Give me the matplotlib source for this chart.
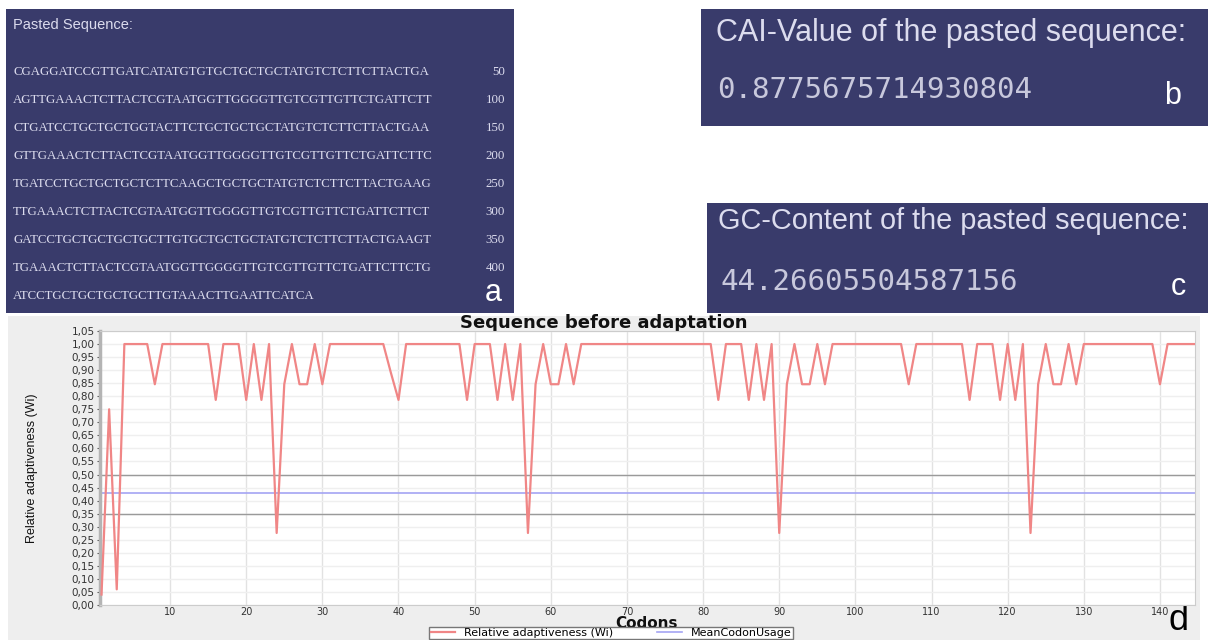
import numpy as np
import matplotlib.pyplot as plt
from matplotlib import font_manager
from matplotlib.patches import Rectangle
from matplotlib.ticker import FuncFormatter

# panel a: pasted sequence, 50 nt per row
seq_rows = [
    "CGAGGATCCGTTGATCATATGTGTGCTGCTGCTATGTCTCTTCTTACTGA",
    "AGTTGAAACTCTTACTCGTAATGGTTGGGGTTGTCGTTGTTCTGATTCTT",
    "CTGATCCTGCTGCTGGTACTTCTGCTGCTGCTATGTCTCTTCTTACTGAA",
    "GTTGAAACTCTTACTCGTAATGGTTGGGGTTGTCGTTGTTCTGATTCTTC",
    "TGATCCTGCTGCTGCTCTTCAAGCTGCTGCTATGTCTCTTCTTACTGAAG",
    "TTGAAACTCTTACTCGTAATGGTTGGGGTTGTCGTTGTTCTGATTCTTCT",
    "GATCCTGCTGCTGCTGCTTGTGCTGCTGCTATGTCTCTTCTTACTGAAGT",
    "TGAAACTCTTACTCGTAATGGTTGGGGTTGTCGTTGTTCTGATTCTTCTG",
    "ATCCTGCTGCTGCTGCTTGTAAACTTGAATTCATCA",
]
row_ends = ["50", "100", "150", "200", "250", "300", "350", "400", ""]

# panels b and c
cai_value = "0.8775675714930804"
gc_value = "44.26605504587156"

# panel d: relative adaptiveness per codon
wi = [
    0.04, 0.75, 0.06, 1.0, 1.0, 1.0, 1.0, 0.846, 1.0,
    1.0, 1.0, 1.0, 1.0, 1.0, 1.0, 0.786, 1.0, 1.0, 1.0,
    0.786, 1.0, 0.786, 1.0, 0.276, 0.846, 1.0, 0.846, 0.846, 1.0,
    0.846, 1.0, 1.0, 1.0, 1.0, 1.0, 1.0, 1.0, 1.0, 0.89,
    0.786, 1.0, 1.0, 1.0, 1.0, 1.0, 1.0, 1.0, 1.0, 0.786,
    1.0, 1.0, 1.0, 0.786, 1.0, 0.786, 1.0, 0.276, 0.846, 1.0,
    0.846, 0.846, 1.0, 0.846, 1.0, 1.0, 1.0, 1.0, 1.0, 1.0,
    1.0, 1.0, 1.0, 1.0, 1.0, 1.0, 1.0, 1.0, 1.0, 1.0,
    1.0, 1.0, 0.786, 1.0, 1.0, 1.0, 0.786, 1.0, 0.786, 1.0,
    0.276, 0.846, 1.0, 0.846, 0.846, 1.0, 0.846, 1.0, 1.0, 1.0,
    1.0, 1.0, 1.0, 1.0, 1.0, 1.0, 1.0, 0.846, 1.0, 1.0,
    1.0, 1.0, 1.0, 1.0, 1.0, 0.786, 1.0, 1.0, 1.0, 0.786,
    1.0, 0.786, 1.0, 0.276, 0.846, 1.0, 0.846, 0.846, 1.0, 0.846,
    1.0, 1.0, 1.0, 1.0, 1.0, 1.0, 1.0, 1.0, 1.0, 1.0,
    0.846, 1.0, 1.0, 1.0, 1.0, 1.0,
]
codons = np.arange(1, len(wi) + 1)
mean_usage = 0.43
band_hi = 0.50
band_lo = 0.35
x_ticks = [10, 20, 30, 40, 50, 60, 70, 80, 90, 100, 110, 120, 130, 140]

names = {f.name for f in font_manager.fontManager.ttflist}
narrow = "Liberation Sans Narrow" if "Liberation Sans Narrow" in names else "Liberation Serif"
seq_size = 11 if narrow == "Liberation Sans Narrow" else 9.3

navy = "#393b6b"
light = "#dcdcee"

fig = plt.figure(figsize=(12.08, 6.4), dpi=100)
fig.patch.set_facecolor("white")

# pixel coordinate overlay for the boxes and labels
bg = fig.add_axes([0, 0, 1, 1])
bg.set_xlim(0, 1208)
bg.set_ylim(640, 0)
bg.axis("off")

bg.add_patch(Rectangle((6, 9), 508, 304, fc=navy, ec="none"))
bg.add_patch(Rectangle((701, 9), 507, 117, fc=navy, ec="none"))
bg.add_patch(Rectangle((707, 203), 501, 110, fc=navy, ec="none"))
bg.add_patch(Rectangle((8, 316), 1192, 330, fc="#eeeeee", ec="none"))

# panel a
bg.text(13, 25, "Pasted Sequence:", color=light, fontsize=10.5, family="Liberation Sans",
        va="center", ha="left")
for i, row in enumerate(seq_rows):
    y = 72 + 28 * i
    bg.text(13, y, row, color=light, fontsize=seq_size, family=narrow, va="center", ha="left")
    bg.text(505, y, row_ends[i], color=light, fontsize=seq_size, family=narrow, va="center", ha="right")
bg.text(493, 293, "a", color="white", fontsize=22, family="Liberation Sans", va="center", ha="center")

# panel b
bg.text(716, 33, "CAI-Value of the pasted sequence:", color=light, fontsize=22,
        family="Liberation Sans", va="center", ha="left")
bg.text(717, 90, cai_value, color="#c8c8dc", fontsize=21, family="DejaVu Sans Mono",
        va="center", ha="left")
bg.text(1173, 96, "b", color="white", fontsize=22, family="Liberation Sans", va="center", ha="center")

# panel c
bg.text(718, 221, "GC-Content of the pasted sequence:", color=light, fontsize=20.8,
        family="Liberation Sans", va="center", ha="left")
bg.text(720, 282, gc_value, color="#c8c8dc", fontsize=21, family="DejaVu Sans Mono",
        va="center", ha="left")
bg.text(1178, 287, "c", color="white", fontsize=22, family="Liberation Sans", va="center", ha="center")

# panel d
bg.text(604, 323, "Sequence before adaptation", fontsize=13, fontweight="bold",
        va="center", ha="center", color="#111111")
bg.text(647, 624, "Codons", fontsize=11, fontweight="bold", va="center", ha="center", color="#111111")
bg.text(32, 468, "Relative adaptiveness (Wi)", rotation=90, fontsize=9, family="Liberation Sans",
        va="center", ha="center", color="#111111")
bg.text(1178, 620, "d", fontsize=26, family="Liberation Sans", va="center", ha="center", color="black")

ax = fig.add_axes([100 / 1208, 35 / 640, 1095 / 1208, 274 / 640])
ax.set_facecolor("white")
ax.plot(codons, wi, color="#f08686", lw=1.6, label="Relative adaptiveness (Wi)", zorder=3)
ax.axhline(band_hi, color="#9a9a9a", lw=1, zorder=2)
ax.axhline(band_lo, color="#9a9a9a", lw=1, zorder=2)
ax.axhline(mean_usage, color="#a4a4f4", lw=1.2, label="MeanCodonUsage", zorder=2)

ax.set_xlim(0.8, 144.6)
ax.set_ylim(0, 1.05)
ax.set_xticks(x_ticks)
ax.set_yticks(np.arange(0, 1.0501, 0.05))
ax.yaxis.set_major_formatter(FuncFormatter(lambda v, p: f"{v:.2f}".replace(".", ",")))
ax.tick_params(axis="y", labelsize=7.5, length=2, pad=2, colors="#555555", labelcolor="#333333")
ax.tick_params(axis="x", labelsize=7, length=0, pad=1.5, labelcolor="#333333")
ax.xaxis.grid(True, color="#e2e2e2", lw=1)
ax.yaxis.grid(True, color="#efefef", lw=1)
ax.set_axisbelow(True)
for s in ax.spines.values():
    s.set_color("#cccccc")
ax.spines["left"].set_color("#b4b4b4")
ax.spines["left"].set_linewidth(2.5)

fig.legend(loc="upper center", bbox_to_anchor=(611 / 1208, 13 / 640), ncol=2, fontsize=8,
           frameon=True, fancybox=False, edgecolor="#777777", borderpad=0.1, borderaxespad=0,
           handlelength=2.2, columnspacing=4, framealpha=1)

fig.savefig("out.png", dpi=100)
